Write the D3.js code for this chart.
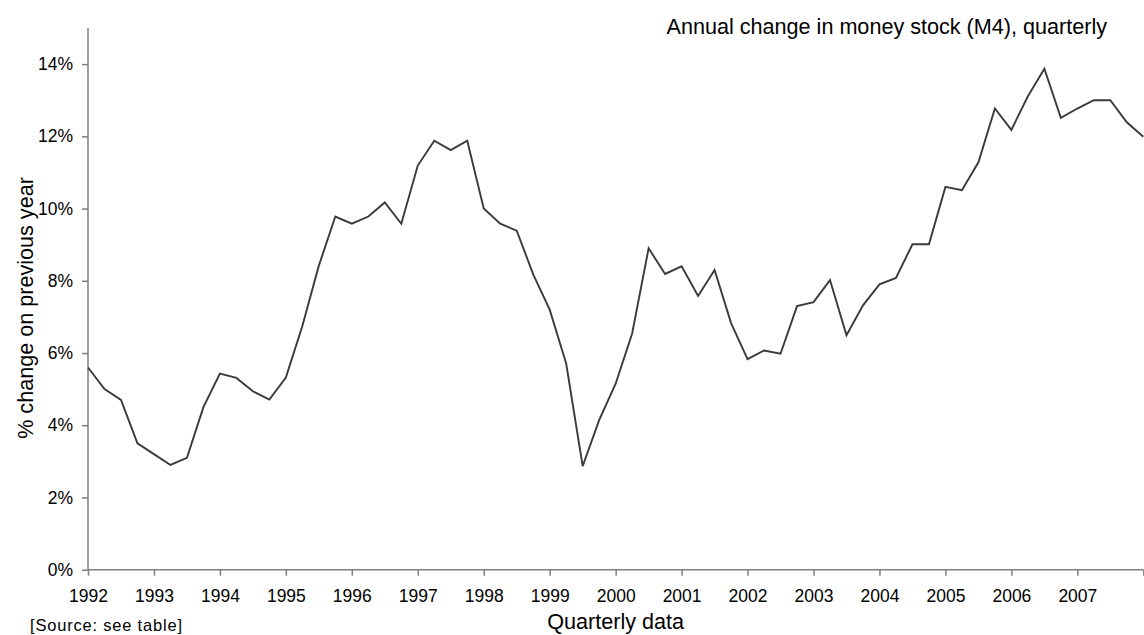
<!DOCTYPE html>
<html>
<head>
<meta charset="utf-8">
<script src="https://cdn.jsdelivr.net/npm/d3@7"></script>
<style>
  html, body { margin: 0; padding: 0; background: #fff; }
  svg { display: block; font-family: "Liberation Sans", Arial, sans-serif; }
</style>
</head>
<body>
<svg id="chart" width="1144" height="635"></svg>
<script>
// Annual % change in M4 money stock, quarterly, 1992 Q1 – 2008 Q1
const years = [1992, 1993, 1994, 1995, 1996, 1997, 1998, 1999,
               2000, 2001, 2002, 2003, 2004, 2005, 2006, 2007];

const growth = [
  5.6, 5.0, 4.7, 3.5,        // 1992
  3.2, 2.9, 3.1, 4.5,        // 1993
  5.43, 5.31, 4.94, 4.71,    // 1994
  5.32, 6.75, 8.42, 9.78,    // 1995
  9.58, 9.78, 10.17, 9.58,   // 1996
  11.19, 11.88, 11.62, 11.88,// 1997
  10.0, 9.58, 9.39, 8.18,    // 1998
  7.2, 5.71, 2.87, 4.14,     // 1999
  5.15, 6.54, 8.9, 8.19,     // 2000
  8.4, 7.58, 8.3, 6.83,      // 2001
  5.83, 6.07, 5.98, 7.3,     // 2002
  7.41, 8.02, 6.49, 7.32,    // 2003
  7.9, 8.08, 9.01, 9.01,     // 2004
  10.6, 10.51, 11.28, 12.77, // 2005
  12.18, 13.11, 13.87, 12.51,// 2006
  12.77, 13.0, 13.0, 12.39,  // 2007
  11.99                      // 2008 Q1
];

const yTicks = [0, 2, 4, 6, 8, 10, 12, 14];

const title = "Annual change in money stock (M4), quarterly";
const yTitle = "% change on previous year";
const xTitle = "Quarterly data";
const sourceNote = "[Source: see table]";

const svg = d3.select("#chart");
const plotLeft = 88, plotRight = 1143.3, plotTop = 28, plotBottom = 569.7;

const x = d3.scaleLinear().domain([0, growth.length - 1]).range([plotLeft, plotRight]);
const y = d3.scaleLinear().domain([0, 15]).range([plotBottom, plotTop]);

const axisColor = "#7f7f7f";
const fontSize = 17.5;
const fontFamily = '"Liberation Sans", Arial, sans-serif';

// y axis
const yAxis = svg.append("g")
  .attr("transform", `translate(${plotLeft},0)`)
  .call(d3.axisLeft(y).tickValues(yTicks).tickFormat(d => d + "%")
    .tickSize(6).tickPadding(9));
yAxis.select(".domain").attr("stroke", axisColor).attr("stroke-width", 1.5)
  .attr("d", `M0,${plotBottom}V${plotTop}`);
yAxis.selectAll(".tick line").attr("stroke", axisColor).attr("stroke-width", 1.5);
yAxis.selectAll(".tick text").attr("fill", "#000")
  .style("font-size", fontSize + "px").style("font-family", fontFamily);

// x axis: a tick every four quarters, labelled with the year
const xTickIdx = d3.range(0, growth.length, 4);
const xAxis = svg.append("g")
  .attr("transform", `translate(0,${plotBottom})`)
  .call(d3.axisBottom(x).tickValues(xTickIdx)
    .tickFormat(i => (i / 4 < years.length ? years[i / 4] : ""))
    .tickSize(6).tickPadding(14));
xAxis.select(".domain").attr("stroke", axisColor).attr("stroke-width", 1.5)
  .attr("d", `M${plotLeft},0H${plotRight}`);
xAxis.selectAll(".tick line").attr("stroke", axisColor).attr("stroke-width", 1.5);
xAxis.selectAll(".tick text").attr("fill", "#000")
  .style("font-size", fontSize + "px").style("font-family", fontFamily);

// series line
const line = d3.line().x((d, i) => x(i)).y(d => y(d));
svg.append("path")
  .datum(growth)
  .attr("fill", "none")
  .attr("stroke", "#3a3a3a")
  .attr("stroke-width", 1.9)
  .attr("stroke-linejoin", "miter")
  .attr("d", line);

// titles
svg.append("text")
  .attr("x", 1107).attr("y", 34)
  .attr("text-anchor", "end")
  .style("font-size", "21.6px")
  .attr("fill", "#000")
  .text(title);

svg.append("text")
  .attr("transform", `translate(33,308) rotate(-90)`)
  .attr("text-anchor", "middle")
  .style("font-size", "21.6px")
  .attr("fill", "#000")
  .text(yTitle);

svg.append("text")
  .attr("x", (plotLeft + plotRight) / 2).attr("y", 629)
  .attr("text-anchor", "middle")
  .style("font-size", "21.6px")
  .attr("fill", "#000")
  .text(xTitle);

svg.append("text")
  .attr("x", 30).attr("y", 631)
  .style("font-size", "16.5px")
  .style("letter-spacing", "0.8px")
  .attr("fill", "#000")
  .text(sourceNote);
</script>
</body>
</html>
